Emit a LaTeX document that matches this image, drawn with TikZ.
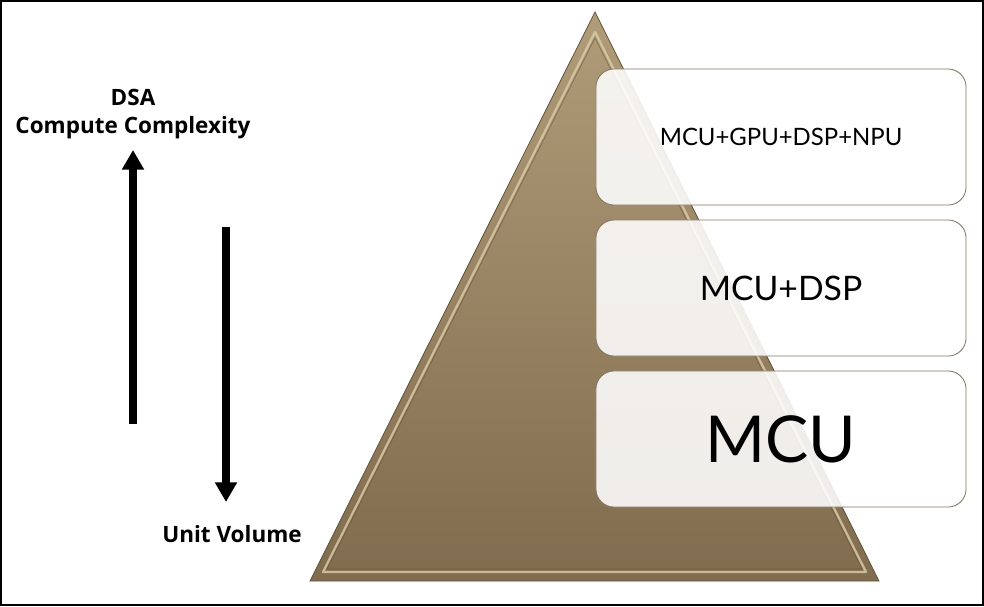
\documentclass[tikz,border=0pt]{standalone}
\usepackage{fontspec}
\setmainfont{Lato}
\newfontfamily\labelfont{Open Sans}
\usetikzlibrary{positioning,arrows.meta,calc,backgrounds}
\definecolor{pyTop}{RGB}{176,156,120}
\definecolor{pyBottom}{RGB}{128,108,78}
\definecolor{pyEdge}{RGB}{100,84,60}
\definecolor{pyShine}{RGB}{222,204,170}
\definecolor{boxEdge}{RGB}{128,116,98}

\begin{document}
\begin{tikzpicture}[
    x=0.025cm, y=-0.025cm,
    thick,
    level box/.style={rectangle, rounded corners=0.45cm, draw=boxEdge, line width=0.6pt, fill=white, fill opacity=0.88, text opacity=1, minimum width=9.25cm, minimum height=3.4cm, inner sep=0pt},
    side label/.style={font=\labelfont\bfseries\fontsize{16}{20}\selectfont, inner sep=0pt, align=center},
    big arrow/.style={line width=5pt, -{Triangle[length=14pt, width=15pt]}}
]
  \useasboundingbox (0,0) rectangle (984,606);
  \draw[line width=1.4pt] (1,1) rectangle (983,605);

  % pyramid
  \coordinate (apex) at (595,12);
  \coordinate (left) at (310,581);
  \coordinate (right) at (879,581);
  \shade[top color=pyTop, bottom color=pyBottom, draw=pyEdge, line width=0.6pt] (apex) -- (right) -- (left) -- cycle;
  \draw[pyShine, line width=1.6pt, opacity=0.8, line join=round] (595,32) -- (323,572) -- (866,572) -- cycle;
  \draw[pyEdge, line width=0.5pt, opacity=0.6] (595,38) -- (327,569) -- (862,569) -- cycle;

  % levels
  \node[level box] (npu) at (781,137) {\fontsize{17}{20}\selectfont MCU+GPU+DSP+NPU};
  \node[level box] (dsp) at (781,288) {\fontsize{24}{28}\selectfont MCU+DSP};
  \node[level box] (mcu) at (781,439) {\fontsize{46}{52}\selectfont MCU};

  % left labels
  \node[side label] (dsa) at (133,114) {DSA\\Compute Complexity};
  \node[side label] (unit) at (232,534) {Unit Volume};

  \coordinate (upStart) at (133,424);
  \coordinate (upEnd) at (133,150);
  \coordinate (downStart) at (226,227);
  \coordinate (downEnd) at (226,502);
  \draw[big arrow] (upStart) -- (upEnd);
  \draw[big arrow] (downStart) -- (downEnd);
\end{tikzpicture}
\end{document}
